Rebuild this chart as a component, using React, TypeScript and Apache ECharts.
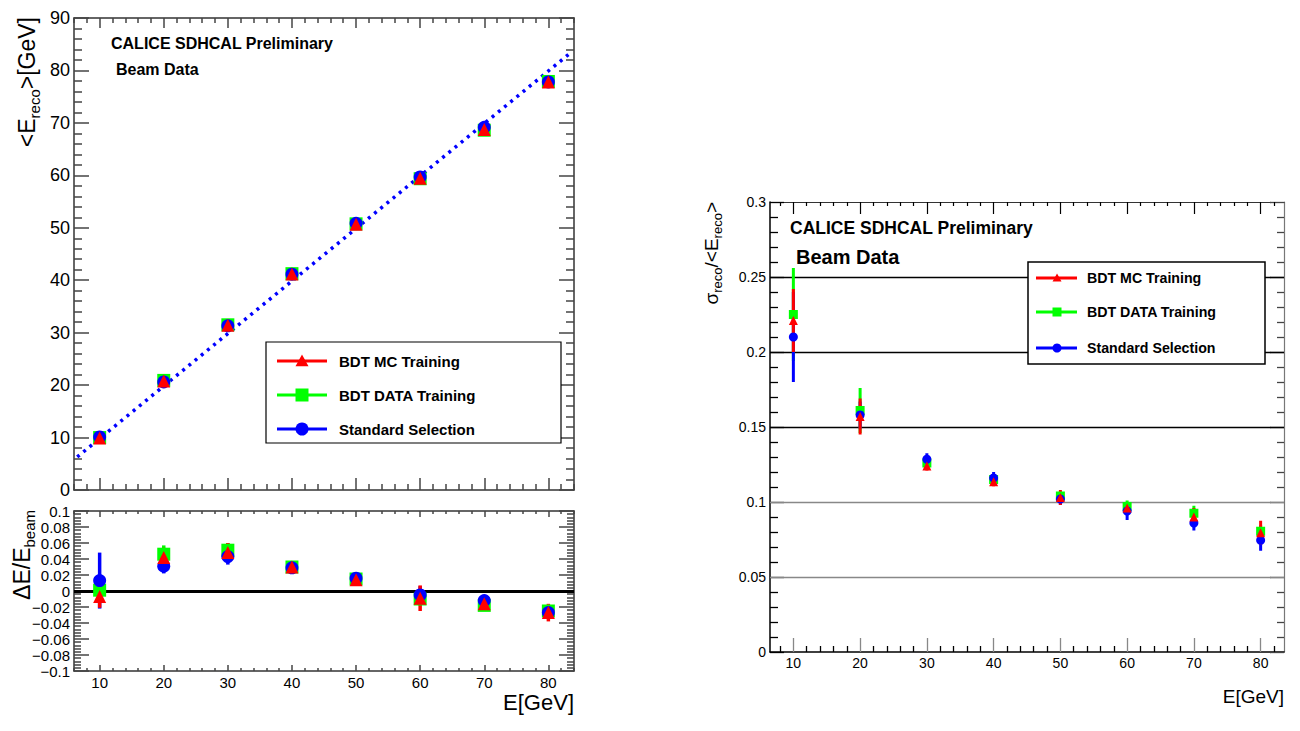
import React, { useEffect, useRef } from "react";
import * as echarts from "echarts";

// ---------------- data ----------------
const ENERGIES = [10, 20, 30, 40, 50, 60, 70, 80];
const NAME_MC = "BDT MC Training";
const NAME_DATA = "BDT DATA Training";
const NAME_STD = "Standard Selection";

// <E_reco> [GeV]
const MEAN_MC = [9.92, 20.8, 31.4, 41.2, 50.65, 59.45, 68.75, 77.8];
const MEAN_DATA = [10.0, 20.9, 31.5, 41.25, 50.75, 59.35, 68.6, 77.9];
const MEAN_STD = [10.12, 20.6, 31.3, 41.15, 50.85, 59.7, 69.15, 77.8];
// dotted linear fit
const FIT_E = [6.5, 83.5];
const FIT_RECO = [6.3, 83.4];

// dE/E_beam
const DEV_MC = [-0.007, 0.042, 0.048, 0.03, 0.014, -0.009, -0.016, -0.027];
const DEV_MC_ERR = [0.014, 0.012, 0.012, 0.004, 0.004, 0.016, 0.004, 0.011];
const DEV_DATA = [0.001, 0.046, 0.051, 0.03, 0.015, -0.01, -0.018, -0.025];
const DEV_DATA_ERR = [0.005, 0.011, 0.009, 0.004, 0.004, 0.008, 0.004, 0.007];
const DEV_STD = [0.013, 0.031, 0.043, 0.029, 0.016, -0.005, -0.012, -0.027];
const DEV_STD_ERR = [0.035, 0.009, 0.01, 0.004, 0.004, 0.011, 0.004, 0.008];

// sigma_reco / <E_reco>
const RES_MC = [0.221, 0.157, 0.124, 0.1135, 0.103, 0.096, 0.09, 0.0795];
const RES_MC_ERR = [0.021, 0.012, 0.003, 0.003, 0.005, 0.004, 0.006, 0.008];
const RES_DATA = [0.225, 0.161, 0.126, 0.115, 0.104, 0.097, 0.0925, 0.0805];
const RES_DATA_ERR = [0.031, 0.015, 0.003, 0.003, 0.003, 0.004, 0.005, 0.004];
const RES_STD = [0.21, 0.158, 0.1285, 0.116, 0.102, 0.094, 0.086, 0.0745];
const RES_STD_ERR = [0.03, 0.009, 0.004, 0.004, 0.004, 0.006, 0.005, 0.007];

// tick labels
const X_TICKS = [10, 20, 30, 40, 50, 60, 70, 80];
const Y_TICKS_MEAN = [0, 10, 20, 30, 40, 50, 60, 70, 80, 90];
const Y_TICKS_DEV = [-0.1, -0.08, -0.06, -0.04, -0.02, 0, 0.02, 0.04, 0.06, 0.08, 0.1];
const Y_TICKS_RES = [0, 0.05, 0.1, 0.15, 0.2, 0.25, 0.3];
const RES_GRID_DARK = [0.15, 0.2, 0.25];
const RES_GRID_LIGHT = [0.05, 0.1];

// ---------------- style ----------------
const RED = "#ff0000";
const GREEN = "#00ff00";
const BLUE = "#0000ff";
const FONT = '"Liberation Sans", Arial, Helvetica, sans-serif';

function minorValues(min: number, max: number, step: number, majorStep: number) {
  const out: number[] = [];
  const start = Math.ceil(min / step - 1e-9);
  const end = Math.floor(max / step + 1e-9);
  for (let k = start; k <= end; k++) {
    const v = k * step;
    const r = v / majorStep;
    if (Math.abs(r - Math.round(r)) < 1e-6) continue;
    out.push(+v.toFixed(6));
  }
  return out;
}

function fmt(v: number) {
  const r = Math.round(v * 10000) / 10000;
  if (r === 0) return "0";
  const s = String(Math.abs(r));
  return r < 0 ? "\u2212" + s : s;
}

type LineSpec = { color: string; width: number };
type TickSpec = { len: number; color: string; width: number };

function axisPair(
  dim: "x" | "y",
  gridIndex: number,
  min: number,
  max: number,
  position: string,
  majors: number[],
  minors: number[],
  line: LineSpec,
  maj: TickSpec,
  mn: TickSpec,
  label: null | { fontSize: number; margin: number }
) {
  const base = {
    type: "value",
    gridIndex,
    min,
    max,
    position,
    splitLine: { show: false },
    minorTick: { show: false },
    minorSplitLine: { show: false },
    silent: true,
  };
  const main = {
    ...base,
    axisLine: { show: true, onZero: false, lineStyle: { color: line.color, width: line.width } },
    axisTick: {
      show: true,
      inside: true,
      length: maj.len,
      customValues: majors,
      lineStyle: { color: maj.color, width: maj.width },
    },
    axisLabel: label
      ? {
          show: true,
          customValues: majors,
          formatter: (v: number) => fmt(v),
          fontSize: label.fontSize,
          fontFamily: FONT,
          color: "#000",
          margin: label.margin,
        }
      : { show: false },
  };
  const minor = {
    ...base,
    axisLine: { show: false, onZero: false },
    axisTick: {
      show: true,
      inside: true,
      length: mn.len,
      customValues: minors,
      lineStyle: { color: mn.color, width: mn.width },
    },
    axisLabel: { show: false },
  };
  return [main, minor];
}

function errorBars(axisIndex: number, vals: number[], errs: number[], color: string, width: number) {
  return {
    type: "custom",
    xAxisIndex: axisIndex,
    yAxisIndex: axisIndex,
    silent: true,
    encode: { x: 0, y: 1 },
    data: ENERGIES.map((e, i) => [e, vals[i], errs[i]]),
    renderItem: (_p: any, api: any) => {
      const x = api.value(0);
      const y = api.value(1);
      const er = api.value(2);
      const a = api.coord([x, y - er]);
      const b = api.coord([x, y + er]);
      return {
        type: "line",
        shape: { x1: a[0], y1: a[1], x2: b[0], y2: b[1] },
        style: { stroke: color, lineWidth: width },
      };
    },
  };
}

function points(axisIndex: number, name: string, vals: number[], symbol: string, size: number, color: string, extra: any = {}) {
  return {
    type: "scatter",
    name,
    xAxisIndex: axisIndex,
    yAxisIndex: axisIndex,
    symbol,
    symbolSize: size,
    itemStyle: { color, opacity: 1 },
    silent: true,
    data: ENERGIES.map((e, i) => [e, vals[i]]),
    ...extra,
  };
}

function legendGraphics(
  box: [number, number, number, number],
  rows: number[],
  lx1: number,
  lx2: number,
  mx: number,
  tx: number,
  ms: number,
  fontSize: number,
  boxWidth: number
) {
  const els: any[] = [];
  els.push({
    type: "rect",
    z: 100,
    shape: { x: box[0], y: box[1], width: box[2] - box[0], height: box[3] - box[1] },
    style: { fill: "#fff", stroke: "#000", lineWidth: boxWidth },
  });
  const items = [
    { name: NAME_MC, color: RED, kind: "tri" },
    { name: NAME_DATA, color: GREEN, kind: "rect" },
    { name: NAME_STD, color: BLUE, kind: "circle" },
  ];
  items.forEach((it, i) => {
    const y = rows[i];
    els.push({
      type: "line",
      z: 101,
      shape: { x1: lx1, y1: y, x2: lx2, y2: y },
      style: { stroke: it.color, lineWidth: 3 },
    });
    const h = ms / 2;
    if (it.kind === "tri") {
      els.push({
        type: "polygon",
        z: 102,
        shape: { points: [[mx, y - h], [mx - h, y + h * 0.8], [mx + h, y + h * 0.8]] },
        style: { fill: it.color },
      });
    } else if (it.kind === "rect") {
      els.push({ type: "rect", z: 102, shape: { x: mx - h, y: y - h, width: ms, height: ms }, style: { fill: it.color } });
    } else {
      els.push({ type: "circle", z: 102, shape: { cx: mx, cy: y, r: h }, style: { fill: it.color } });
    }
    els.push({
      type: "text",
      z: 102,
      x: tx,
      y,
      style: {
        text: it.name,
        fontSize,
        fontWeight: "bold",
        fontFamily: FONT,
        fill: "#000",
        align: "left",
        verticalAlign: "middle",
      },
    });
  });
  return els;
}

function boldText(x: number, y: number, text: string, fontSize: number) {
  return {
    type: "text",
    z: 100,
    x,
    y,
    style: { text, fontSize, fontWeight: "bold", fontFamily: FONT, fill: "#000", align: "left", verticalAlign: "middle" },
  };
}

function richTitle(x: number, y: number, text: string, big: number, small: number, rotate: boolean, align: string) {
  return {
    type: "text",
    z: 100,
    x,
    y,
    rotation: rotate ? Math.PI / 2 : 0,
    style: {
      text,
      align,
      verticalAlign: "middle",
      fill: "#000",
      fontFamily: FONT,
      fontSize: big,
      rich: {
        a: { fontSize: big, lineHeight: Math.round(big * 1.3), fontFamily: FONT, fill: "#000" },
        s: { fontSize: small, lineHeight: small, verticalAlign: "bottom", fontFamily: FONT, fill: "#000" },
      },
    },
  };
}

function buildOption() {
  const L_XMIN = 6;
  const L_XMAX = 84;
  const R_XMIN = 6.5;
  const R_XMAX = 83.5;

  const frameL: LineSpec = { color: "#333", width: 1.5 };
  const tickL = (len: number): TickSpec => ({ len, color: "#444", width: 1.5 });

  const xAxes: any[] = [];
  const yAxes: any[] = [];

  // grid 0 : top-left
  xAxes.push(
    ...axisPair("x", 0, L_XMIN, L_XMAX, "bottom", X_TICKS, minorValues(L_XMIN, L_XMAX, 2, 10), frameL, tickL(12), tickL(6), null),
    ...axisPair("x", 0, L_XMIN, L_XMAX, "top", X_TICKS, minorValues(L_XMIN, L_XMAX, 2, 10), frameL, tickL(10), tickL(5), null)
  );
  yAxes.push(
    ...axisPair("y", 0, 0, 90, "left", Y_TICKS_MEAN, minorValues(0, 90, 2, 10), frameL, tickL(15), tickL(8), { fontSize: 18, margin: 4 }),
    ...axisPair("y", 0, 0, 90, "right", Y_TICKS_MEAN, minorValues(0, 90, 2, 10), frameL, tickL(15), tickL(8), null)
  );
  // grid 1 : bottom-left
  xAxes.push(
    ...axisPair("x", 1, L_XMIN, L_XMAX, "bottom", X_TICKS, minorValues(L_XMIN, L_XMAX, 2, 10), frameL, tickL(6), tickL(3), { fontSize: 15, margin: 4 }),
    ...axisPair("x", 1, L_XMIN, L_XMAX, "top", X_TICKS, minorValues(L_XMIN, L_XMAX, 2, 10), frameL, tickL(6), tickL(3), null)
  );
  yAxes.push(
    ...axisPair("y", 1, -0.1, 0.1, "left", Y_TICKS_DEV, minorValues(-0.1, 0.1, 0.004, 0.02), frameL, tickL(15), tickL(7), { fontSize: 15, margin: 4 }),
    ...axisPair("y", 1, -0.1, 0.1, "right", Y_TICKS_DEV, minorValues(-0.1, 0.1, 0.004, 0.02), frameL, tickL(15), tickL(7), null)
  );
  // grid 2 : right
  const rMinX = minorValues(R_XMIN, R_XMAX, 2, 10);
  const rMinY = minorValues(0, 0.3, 0.01, 0.05);
  xAxes.push(
    ...axisPair("x", 2, R_XMIN, R_XMAX, "bottom", X_TICKS, rMinX, { color: "#000", width: 1.5 }, { len: 14, color: "#888", width: 1.3 }, { len: 6, color: "#000", width: 1.3 }, { fontSize: 14, margin: 4 }),
    ...axisPair("x", 2, R_XMIN, R_XMAX, "top", X_TICKS, rMinX, { color: "#333", width: 1.2 }, { len: 12, color: "#000", width: 1.2 }, { len: 4, color: "#000", width: 1.2 }, null)
  );
  yAxes.push(
    ...axisPair("y", 2, 0, 0.3, "left", Y_TICKS_RES, rMinY, { color: "#000", width: 1.5 }, { len: 14, color: "#000", width: 1.3 }, { len: 8, color: "#000", width: 1.3 }, { fontSize: 14, margin: 4 }),
    ...axisPair("y", 2, 0, 0.3, "right", Y_TICKS_RES, rMinY, { color: "#777", width: 1.2 }, { len: 14, color: "#444", width: 1.3 }, { len: 7, color: "#444", width: 1.3 }, null)
  );

  const series: any[] = [];
  // grid 0 (axis index 0)
  series.push({
    type: "line",
    xAxisIndex: 0,
    yAxisIndex: 0,
    silent: true,
    symbol: "none",
    z: 1,
    data: FIT_E.map((e, i) => [e, FIT_RECO[i]]),
    lineStyle: { color: BLUE, width: 3.5, type: [3, 5], cap: "butt" },
  });
  series.push(points(0, NAME_DATA, MEAN_DATA, "rect", 13, GREEN));
  series.push(points(0, NAME_STD, MEAN_STD, "circle", 13, BLUE));
  series.push(points(0, NAME_MC, MEAN_MC, "triangle", 13, RED));

  // grid 1 (axis index 4)
  series.push(errorBars(4, DEV_DATA, DEV_DATA_ERR, GREEN, 3.5));
  series.push(
    points(4, NAME_DATA, DEV_DATA, "rect", 13, GREEN, {
      markLine: {
        silent: true,
        symbol: ["none", "none"],
        label: { show: false },
        z: 1,
        lineStyle: { color: "#000", width: 3, type: "solid" },
        data: [{ yAxis: 0 }],
      },
    })
  );
  series.push(errorBars(4, DEV_STD, DEV_STD_ERR, BLUE, 3.5));
  series.push(points(4, NAME_STD, DEV_STD, "circle", 13, BLUE));
  series.push(errorBars(4, DEV_MC, DEV_MC_ERR, RED, 3.5));
  series.push(points(4, NAME_MC, DEV_MC, "triangle", 13, RED));

  // grid 2 (axis index 8)
  series.push(errorBars(8, RES_DATA, RES_DATA_ERR, GREEN, 3));
  series.push(
    points(8, NAME_DATA, RES_DATA, "rect", 9, GREEN, {
      markLine: {
        silent: true,
        symbol: ["none", "none"],
        label: { show: false },
        z: 1,
        data: [
          ...RES_GRID_DARK.map((v) => ({ yAxis: v, lineStyle: { color: "#000", width: 1.3, type: "solid" } })),
          ...RES_GRID_LIGHT.map((v) => ({ yAxis: v, lineStyle: { color: "#888", width: 1.3, type: "solid" } })),
        ],
      },
    })
  );
  series.push(errorBars(8, RES_STD, RES_STD_ERR, BLUE, 3));
  series.push(points(8, NAME_STD, RES_STD, "circle", 9, BLUE));
  series.push(errorBars(8, RES_MC, RES_MC_ERR, RED, 3));
  series.push(points(8, NAME_MC, RES_MC, "triangle", 9, RED));

  const graphics: any[] = [
    boldText(111, 43, "CALICE SDHCAL Preliminary", 16),
    boldText(116, 69, "Beam Data", 16),
    boldText(790, 228, "CALICE SDHCAL Preliminary", 17.5),
    boldText(796, 257, "Beam Data", 20),
    ...legendGraphics([266, 342, 561, 443], [361, 395, 429], 277, 327, 302, 339, 13, 15, 1.2),
    ...legendGraphics([1028, 262, 1265, 364], [278, 312, 348], 1036, 1077, 1057, 1087, 9, 14.2, 1.5),
    richTitle(27, 17, "{a|<E}{s|reco}{a|>[GeV]}", 23, 15, true, "right"),
    richTitle(22, 510, "{a|\u0394E/E}{s|beam}", 23, 15, true, "right"),
    richTitle(711, 202, "{a|\u03c3}{s|reco}{a|/<E}{s|reco}{a|>}", 19, 13, true, "right"),
    {
      type: "text",
      z: 100,
      x: 574,
      y: 702,
      style: { text: "E[GeV]", fontSize: 22, fontFamily: FONT, fill: "#000", align: "right", verticalAlign: "middle" },
    },
    {
      type: "text",
      z: 100,
      x: 1284,
      y: 696,
      style: { text: "E[GeV]", fontSize: 19, fontFamily: FONT, fill: "#000", align: "right", verticalAlign: "middle" },
    },
  ];

  return {
    animation: false,
    backgroundColor: "#ffffff",
    textStyle: { fontFamily: FONT },
    grid: [
      { left: 74, top: 18, width: 500, height: 472 },
      { left: 74, top: 511, width: 500, height: 160 },
      { left: 770, top: 202, width: 514, height: 450 },
    ],
    xAxis: xAxes,
    yAxis: yAxes,
    series,
    graphic: graphics,
  };
}

export default function App() {
  const ref = useRef<HTMLDivElement>(null);
  useEffect(() => {
    document.body.style.margin = "0";
    const chart = echarts.init(ref.current as HTMLDivElement, undefined, { renderer: "svg" });
    chart.setOption(buildOption() as any);
    return () => chart.dispose();
  }, []);
  return <div ref={ref} style={{ width: 1300, height: 731, background: "#fff" }} />;
}
